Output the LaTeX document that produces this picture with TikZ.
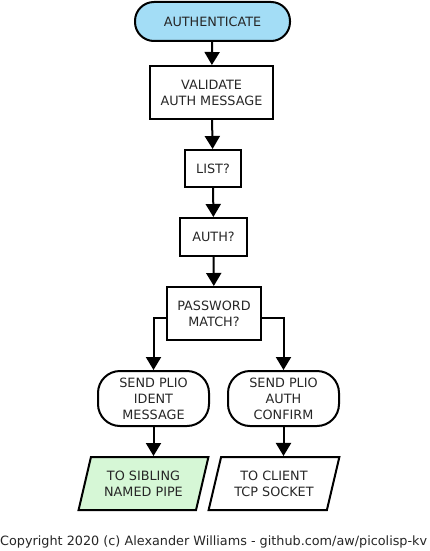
\documentclass[tikz,border=0pt]{standalone}
\usepackage{fontspec}
\setmainfont{DejaVu Sans}
\usepackage{xcolor}
\usepackage{tikz}
\usetikzlibrary{
	positioning,
	arrows.meta,
	shapes.geometric
}

\definecolor{startblue}{HTML}{A3DDF6}
\definecolor{pipegreen}{HTML}{D6F7D6}

\begin{document}
\begin{tikzpicture}[
	x=1pt,y=-1pt,
	every node/.style={font=\fontsize{12.8}{16}\selectfont,text=black!85},
	c_step/.style={
		draw=black,
		line width=2pt,
		align=center,
		inner sep=0pt
	},
	c_box/.style={
		c_step,
		rectangle
	},
	c_term/.style={
		c_step,
		rectangle,
		rounded corners=19pt
	},
	c_io/.style={
		c_step,
		trapezium,
		trapezium left angle=70,
		trapezium right angle=110,
		trapezium stretches=true,
		minimum width=131pt,
		minimum height=53pt
	},
	c_flow/.style={
		line width=2pt,
		-{Triangle[length=13pt,width=15pt]}
	}
	]

	% =========================================================================
	% FRAME
	% =========================================================================

	\useasboundingbox (0,0) rectangle (429,551);

	% =========================================================================
	% MAIN COLUMN
	% =========================================================================

	\node[c_term,fill=startblue,minimum width=155pt,minimum height=39pt]
	(auth) at (212.5,21.5) {AUTHENTICATE};

	\node[c_box,minimum width=123pt,minimum height=53pt]
	(validate) at (211.5,92.5) {VALIDATE\\AUTH MESSAGE};

	\node[c_box,minimum width=56pt,minimum height=37pt]
	(list) at (213,168.5) {LIST?};

	\node[c_box,minimum width=67pt,minimum height=38pt]
	(authq) at (213.5,237) {AUTH?};

	\node[c_box,minimum width=94pt,minimum height=53pt]
	(password) at (214,313.5) {PASSWORD\\MATCH?};

	% =========================================================================
	% BRANCHES
	% =========================================================================

	\node[c_term,minimum width=111pt,minimum height=55pt,rounded corners=22pt]
	(ident) at (153.5,398.5) {SEND PLIO\\IDENT\\MESSAGE};

	\node[c_term,minimum width=111pt,minimum height=55pt,rounded corners=22pt]
	(confirm) at (283.5,398.5) {SEND PLIO\\AUTH\\CONFIRM};

	\node[c_io,fill=pipegreen]
	(pipe) at (143.5,483.5) {TO SIBLING\\NAMED PIPE};

	\node[c_io]
	(socket) at (274,483.5) {TO CLIENT\\TCP SOCKET};

	% Connectors
	\draw[c_flow] (auth) -- (validate);
	\draw[c_flow] (validate) -- (list);
	\draw[c_flow] (list) -- (authq);
	\draw[c_flow] (authq) -- (password);
	\draw[c_flow] ([yshift=-4pt]password.west) -| (ident.north);
	\draw[c_flow] ([yshift=-4pt]password.east) -| (confirm.north);
	\draw[c_flow] (ident) -- (ident |- pipe.north);
	\draw[c_flow] (confirm) -- (confirm |- socket.north);

	% Footer
	\node[anchor=base west,inner sep=0pt]
	(footer) at (0,545)
	{Copyright 2020 (c) Alexander Williams - github.com/aw/picolisp-kv};

\end{tikzpicture}
\end{document}
